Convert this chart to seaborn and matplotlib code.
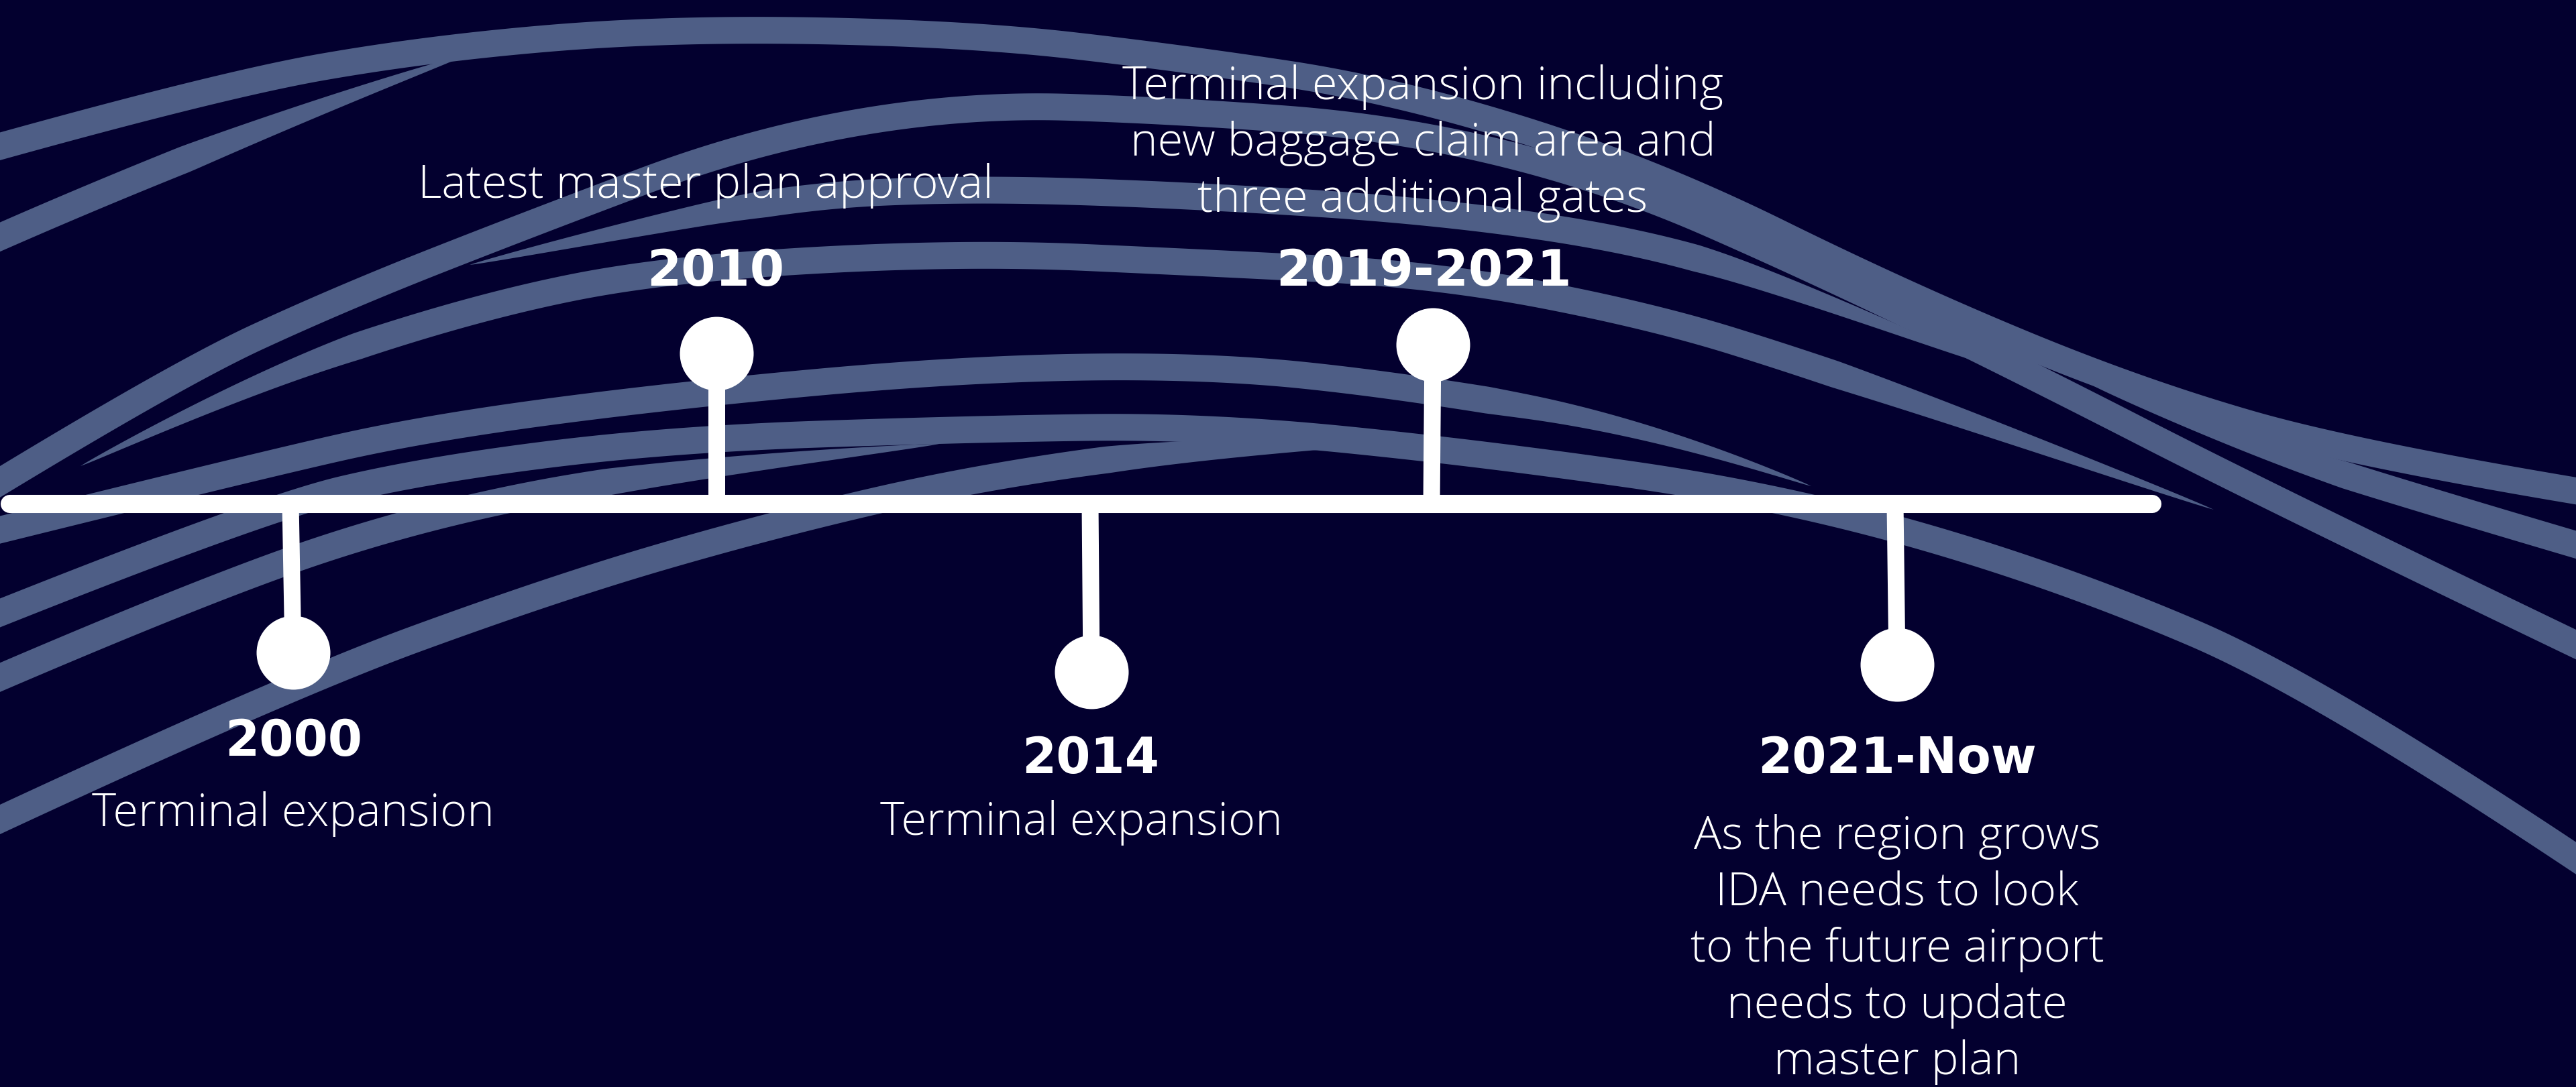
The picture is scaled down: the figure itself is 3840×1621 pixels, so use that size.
import numpy as np
import pandas as pd
import matplotlib
matplotlib.use('Agg')
from matplotlib import pyplot as plt
from matplotlib.patches import Polygon
import seaborn as sns

# timeline content
years = ['2000', '2010', '2014', '2019-2021', '2021-Now']
descriptions = [
    ['Terminal expansion'],
    ['Latest master plan approval'],
    ['Terminal expansion'],
    ['Terminal expansion including', 'new baggage claim area and', 'three additional gates'],
    ['As the region grows', 'IDA needs to look', 'to the future airport', 'needs to update', 'master plan'],
]
sides = ['below', 'above', 'below', 'above', 'below']

events = pd.DataFrame({'year': years, 'side': sides})

# layout in canvas pixels (3840 x 1621, y downwards)
W, H = 3840, 1621
bg = '#03002f'
ribbon_color = '#4e5e86'
line_y = 751
line_ends = [14, 3208]
stem_top = [433, 1068, 1625, 2134, 2825]
stem_bot = [437, 1068, 1627, 2136, 2828]
dot_y = [973, 527, 1002, 514, 991]
year_x = [438, 1067, 1626, 2122, 2828]
year_base = [1127, 426, 1153, 426, 1153]
desc_x = [437, 1052, 1612, 2121, 2828]
desc_base = [1232, 295, 1245, 148, 1266]
desc_step = 84

# background ribbons: control points, taper length at start / end (0 = runs off canvas)
ribbons = [
    ([(-60, 235), (320, 128), (640, 72), (1000, 42), (1440, 50), (1750, 85), (2083, 135), (2465, 255), (2840, 440), (3190, 585), (3520, 680), (3900, 742)], 0, 0),
    ([(-60, 380), (320, 210), (700, 80)], 0, 450),
    ([(-60, 755), (255, 562), (510, 444), (800, 330), (1120, 210), (1440, 155), (1750, 165), (2083, 190), (2400, 268), (2700, 400), (3000, 545), (3400, 750), (3900, 990)], 0, 0),
    ([(3120, 575), (3300, 645), (3560, 730), (3900, 830)], 400, 0),
    ([(700, 395), (900, 350), (1183, 293), (1438, 281), (1750, 290), (2146, 315), (2465, 363), (2700, 440), (2950, 540)], 450, 450),
    ([(120, 695), (383, 565), (720, 455), (1000, 400), (1438, 376), (1800, 392), (2147, 410), (2465, 472), (2700, 545), (3000, 650), (3300, 760)], 450, 600),
    ([(-60, 805), (383, 695), (638, 638), (1000, 590), (1438, 550), (1800, 545), (2083, 574), (2465, 638), (2700, 725)], 0, 500),
    ([(-60, 938), (383, 760), (638, 700), (1000, 655), (1438, 640), (1800, 635), (2210, 676), (2657, 740), (3074, 860), (3470, 1030), (3900, 1320)], 0, 0),
    ([(-60, 1036), (300, 880), (640, 766), (1000, 700), (1400, 662)], 0, 500),
    ([(-60, 1250), (414, 1028), (827, 877), (1138, 786), (1450, 713), (1800, 665), (2150, 655)], 0, 500),
]
ribbon_width = 40


def spline_points(pts, n=60):
    pts = np.asarray(pts, dtype=float)
    t = np.linspace(0, 1, n)[1:, None]
    out = [pts[:1]]
    start = pts[0]
    for i in range(1, len(pts) - 1):
        end = pts[-1] if i == len(pts) - 2 else (pts[i] + pts[i + 1]) / 2
        out.append((1 - t) ** 2 * start + 2 * (1 - t) * t * pts[i] + t ** 2 * end)
        start = end
    return np.vstack(out)


def ribbon_polygon(pts, width, taper_in, taper_out):
    xy = spline_points(pts)
    d = np.gradient(xy, axis=0)
    d /= np.hypot(d[:, 0], d[:, 1])[:, None]
    normal = np.column_stack([-d[:, 1], d[:, 0]])
    seg = np.hypot(*np.diff(xy, axis=0).T)
    s = np.concatenate([[0], np.cumsum(seg)])
    f = np.ones_like(s)
    if taper_in:
        f *= np.clip(s / taper_in, 0, 1) ** 0.8
    if taper_out:
        f *= np.clip((s[-1] - s) / taper_out, 0, 1) ** 0.8
    half = (width * f / 2)[:, None]
    return np.vstack([xy + normal * half, (xy - normal * half)[::-1]])


sns.set_theme(style='white', rc={'figure.facecolor': bg, 'axes.facecolor': bg})
plt.rcParams['font.family'] = ['Open Sans', 'DejaVu Sans']

fig = plt.figure(figsize=(38.4, 16.21), dpi=100)
ax = fig.add_axes([0, 0, 1, 1])

for pts, t_in, t_out in ribbons:
    ax.add_patch(Polygon(ribbon_polygon(pts, ribbon_width, t_in, t_out), closed=True,
                         facecolor=ribbon_color, edgecolor='none', zorder=1))

# main line and stems
ax.plot(line_ends, [line_y, line_y], color='white', lw=19.5, solid_capstyle='round', zorder=3)
for i in range(len(events)):
    ax.plot([stem_top[i], stem_bot[i]], [line_y, dot_y[i]], color='white', lw=18,
            solid_capstyle='butt', zorder=3)

dots = pd.DataFrame({'x': stem_bot, 'y': dot_y})
sns.scatterplot(data=dots, x='x', y='y', ax=ax, s=6270, color='white', linewidth=0,
                zorder=4, legend=False)
ax.set_xlim(0, W)
ax.set_ylim(H, 0)
ax.axis('off')

for i, row in events.iterrows():
    ax.text(year_x[i], year_base[i], row['year'], ha='center', va='baseline',
            fontsize=53, fontweight='bold', color='white', family=['DejaVu Sans'], zorder=5)
    for j, line in enumerate(descriptions[i]):
        ax.text(desc_x[i], desc_base[i] + j * desc_step, line, ha='center', va='baseline',
                fontsize=49.5, fontweight='light', color='white', zorder=5)

fig.savefig('out.png', dpi=100, facecolor=bg)
